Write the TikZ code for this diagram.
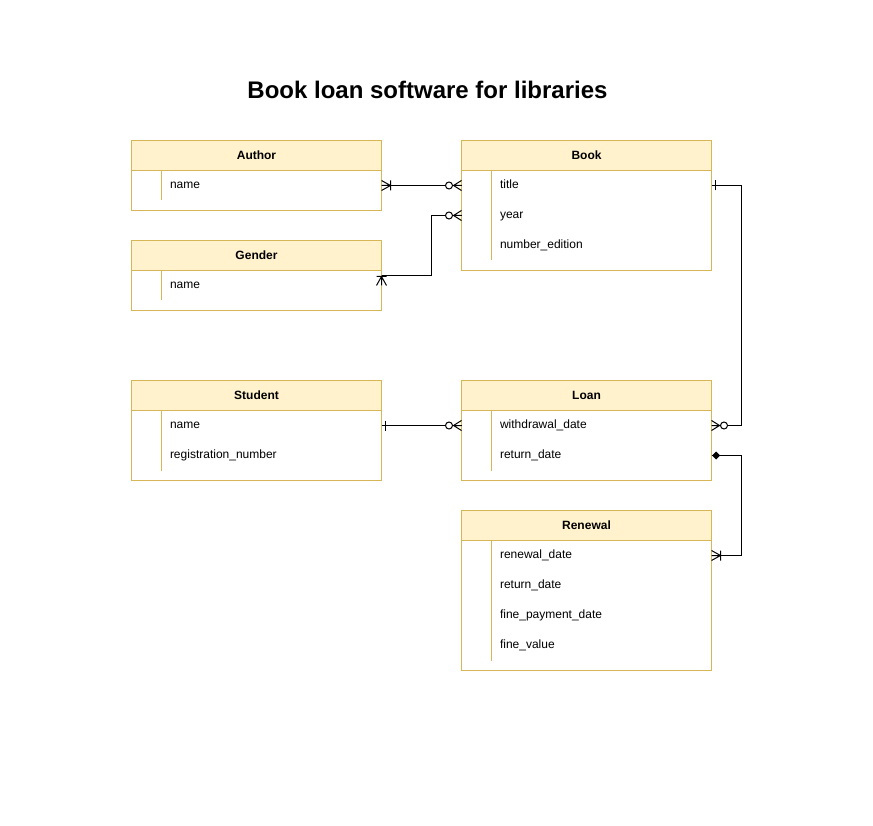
\documentclass[tikz,border=0pt]{standalone}
\usepackage{fontspec}
\setmainfont{Liberation Sans}
\usetikzlibrary{positioning}

\definecolor{headfill}{HTML}{FFF2CC}
\definecolor{headline}{HTML}{D6B656}

\tikzset{
    tablehead/.style = {rectangle, draw = headline, fill = headfill,
        minimum width = 250pt, minimum height = 30pt, outer sep = 0pt,
        inner sep = 0pt, font = \fontsize{12}{14}\selectfont\bfseries},
    tablebody/.style = {rectangle, draw = headline, fill = white,
        minimum width = 250pt, outer sep = 0pt, anchor = north},
    field/.style = {anchor = west, inner sep = 0pt, text height = 8.6pt,
        text depth = 2.6pt, font = \fontsize{12}{14}\selectfont},
    keyline/.style = {draw = headline},
    link/.style = {draw = black, line width = 1pt},
    % crow's foot ends, entity side at (0,0), line leaving along +x
    manyone/.pic = {\draw[link] (0,5) -- (9,0) -- (0,-5) (0,0) -- (9,0)
        (9,5) -- (9,-5);},
    manyzero/.pic = {\draw[link] (0,5) -- (8,0) -- (0,-5) (0,0) -- (9,0);
        \draw[link, fill = white] (12.5,0) circle (3.5pt);},
    onebar/.pic = {\draw[link] (4,5) -- (4,-5);},
    erdiamond/.pic = {\fill (0.5,0) -- (4.5,4) -- (8.5,0) -- (4.5,-4) -- cycle;},
}

\begin{document}
\begin{tikzpicture}[x = 1pt, y = -1pt, line width = 1pt]

\useasboundingbox (-0.5,-0.5) rectangle (872.5,825.5);

\node[font = \fontsize{24}{28}\selectfont\bfseries] (title) at (427,89)
    {Book loan software for libraries};

% Author
\node[tablehead] (author) at (256,155) {Author};
\node[tablebody, minimum height = 40pt] (author-body) at (author.south) {};
\draw[keyline] ([xshift = 30pt]author-body.north west)
    -- ([xshift = 30pt, yshift = 10pt]author-body.south west);
\node[field] (author-name) at (169,185) {name};

% Gender
\node[tablehead] (gender) at (256,255) {Gender};
\node[tablebody, minimum height = 40pt] (gender-body) at (gender.south) {};
\draw[keyline] ([xshift = 30pt]gender-body.north west)
    -- ([xshift = 30pt, yshift = 10pt]gender-body.south west);
\node[field] (gender-name) at (169,285) {name};

% Book
\node[tablehead] (book) at (586,155) {Book};
\node[tablebody, minimum height = 100pt] (book-body) at (book.south) {};
\draw[keyline] ([xshift = 30pt]book-body.north west)
    -- ([xshift = 30pt, yshift = 10pt]book-body.south west);
\node[field] (book-title) at (499,185) {title};
\node[field] (book-year) at (499,215) {year};
\node[field] (book-edition) at (499,245) {number\_edition};

% Student
\node[tablehead] (student) at (256,395) {Student};
\node[tablebody, minimum height = 70pt] (student-body) at (student.south) {};
\draw[keyline] ([xshift = 30pt]student-body.north west)
    -- ([xshift = 30pt, yshift = 10pt]student-body.south west);
\node[field] (student-name) at (169,425) {name};
\node[field] (student-number) at (169,455) {registration\_number};

% Loan
\node[tablehead] (loan) at (586,395) {Loan};
\node[tablebody, minimum height = 70pt] (loan-body) at (loan.south) {};
\draw[keyline] ([xshift = 30pt]loan-body.north west)
    -- ([xshift = 30pt, yshift = 10pt]loan-body.south west);
\node[field] (loan-withdrawal) at (499,425) {withdrawal\_date};
\node[field] (loan-return) at (499,455) {return\_date};

% Renewal
\node[tablehead] (renewal) at (586,525) {Renewal};
\node[tablebody, minimum height = 130pt] (renewal-body) at (renewal.south) {};
\draw[keyline] ([xshift = 30pt]renewal-body.north west)
    -- ([xshift = 30pt, yshift = 10pt]renewal-body.south west);
\node[field] (renewal-renewal) at (499,555) {renewal\_date};
\node[field] (renewal-return) at (499,585) {return\_date};
\node[field] (renewal-payment) at (499,615) {fine\_payment\_date};
\node[field] (renewal-fine) at (499,645) {fine\_value};

% relations
\draw[link] (author-body.east |- author-name) -- (book-body.west |- book-title);
\pic at (author-body.east |- author-name) {manyone};
\pic[rotate = 180] at (book-body.west |- book-title) {manyzero};

\draw[link] ([yshift = -5pt]gender-body.north east) -- ++(50,0)
    |- (book-body.west |- book-year);
\pic[rotate = 90] at (gender-body.east |- gender-name) {manyone};
\pic[rotate = 180] at (book-body.west |- book-year) {manyzero};

\draw[link] (book-body.east |- book-title) -- ++(30,0)
    |- (loan-body.east |- loan-withdrawal);
\pic at (book-body.east |- book-title) {onebar};
\pic at (loan-body.east |- loan-withdrawal) {manyzero};

\draw[link] (loan-body.east |- loan-return) -- ++(30,0)
    |- (renewal-body.east |- renewal-renewal);
\pic at (loan-body.east |- loan-return) {erdiamond};
\pic at (renewal-body.east |- renewal-renewal) {manyone};

\draw[link] (student-body.east |- student-name) -- (loan-body.west |- loan-withdrawal);
\pic at (student-body.east |- student-name) {onebar};
\pic[rotate = 180] at (loan-body.west |- loan-withdrawal) {manyzero};

\end{tikzpicture}
\end{document}
